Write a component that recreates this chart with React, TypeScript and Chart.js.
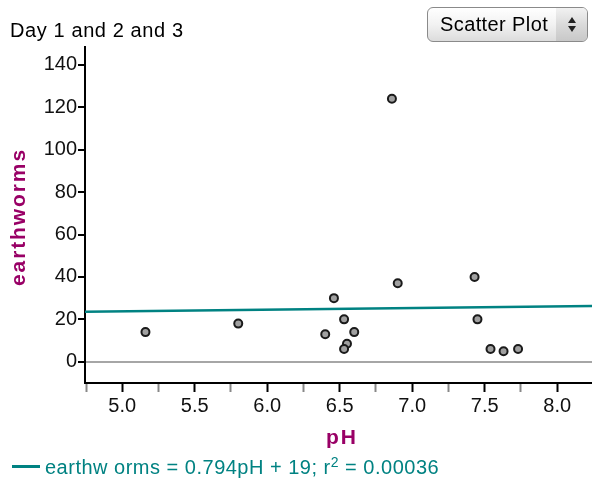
import React, { useEffect, useRef } from "react";
import { Chart, registerables } from "chart.js";

Chart.register(...registerables);

// Data
const phValues = [5.16, 5.8, 6.46, 6.53, 6.4, 6.6, 6.55, 6.53, 6.86, 6.9, 7.43, 7.45, 7.54, 7.63, 7.73];
const earthworms = [14, 18, 30, 20, 13, 14, 8.5, 6, 124, 37, 40, 20, 6, 5, 6];

// Fitted line (as drawn in the picture, at both ends of the x range)
const fitX = [4.743, 8.24];
const fitY = [23.6, 26.3];

const xTickValues = [4.75, 5.0, 5.25, 5.5, 5.75, 6.0, 6.25, 6.5, 6.75, 7.0, 7.25, 7.5, 7.75, 8.0];
const yTickValues = [0, 20, 40, 60, 80, 100, 120, 140];

const xRange = [4.743, 8.24];
const yRange = [-10, 148.4];

const titleText = "Day 1 and 2 and 3";
const xTitle = "pH";
const yTitle = "earthworms";
const menuText = "Scatter Plot";
const legendPre = "earthw orms = 0.794pH + 19; r";
const legendSup = "2";
const legendPost = " = 0.00036";

const TEAL = "#008282";
const MAGENTA = "#990066";
const FONT = "'Liberation Sans', Arial, sans-serif";

export default function App() {
  const ref = useRef<HTMLCanvasElement | null>(null);

  useEffect(() => {
    if (!ref.current) return;
    Chart.defaults.font.family = FONT;
    const chart = new Chart(ref.current, {
      type: "scatter",
      data: {
        datasets: [
          {
            type: "scatter",
            data: phValues.map((x, i) => ({ x, y: earthworms[i] })),
            pointRadius: 4,
            pointHoverRadius: 4,
            pointBorderWidth: 2,
            pointBackgroundColor: "#a0a0a0",
            pointBorderColor: "#1a1a1a",
            order: 1,
          },
          {
            type: "line",
            data: fitX.map((x, i) => ({ x, y: fitY[i] })),
            borderColor: TEAL,
            borderWidth: 2.5,
            pointRadius: 0,
            pointHoverRadius: 0,
            fill: false,
            order: 2,
          } as any,
        ],
      },
      options: {
        animation: false,
        responsive: false,
        maintainAspectRatio: false,
        events: [],
        layout: { autoPadding: false, padding: { left: 0, right: 0, top: 47, bottom: 41 } },
        plugins: {
          legend: { display: false },
          tooltip: { enabled: false },
          title: { display: false },
        },
        scales: {
          x: {
            type: "linear",
            min: xRange[0],
            max: xRange[1],
            afterBuildTicks: (s: any) => {
              s.ticks = xTickValues.map((v) => ({ value: v }));
            },
            afterFit: (s: any) => {
              s.height = 60;
              s.paddingRight = 0;
              s.paddingLeft = 0;
            },
            ticks: {
              autoSkip: false,
              maxRotation: 0,
              padding: 2,
              color: "#111",
              font: { size: 20 },
              callback: (v: any) => {
                const n = Number(v);
                return Math.abs(n * 2 - Math.round(n * 2)) < 1e-6 ? n.toFixed(1) : "";
              },
            },
            grid: {
              drawOnChartArea: false,
              drawTicks: true,
              tickLength: 9,
              tickWidth: 2,
              tickColor: (ctx: any) => {
                const n = ctx.tick ? ctx.tick.value : 0;
                return Math.abs(n * 2 - Math.round(n * 2)) < 1e-6 ? "#000" : "#888";
              },
            },
            border: { display: true, color: "#000", width: 2 },
            title: { display: false },
          },
          y: {
            type: "linear",
            min: yRange[0],
            max: yRange[1],
            afterBuildTicks: (s: any) => {
              s.ticks = yTickValues.map((v) => ({ value: v }));
            },
            afterFit: (s: any) => {
              s.width = 85;
            },
            ticks: {
              autoSkip: false,
              padding: 1,
              color: "#111",
              font: { size: 20 },
            },
            grid: {
              drawOnChartArea: true,
              drawTicks: true,
              tickLength: 7,
              tickWidth: 2,
              tickColor: "#000",
              color: (ctx: any) => (ctx.tick && ctx.tick.value === 0 ? "#a6a6a6" : "rgba(0,0,0,0)"),
              lineWidth: 2,
            },
            border: { display: true, color: "#000", width: 2 },
            title: { display: false },
          },
        },
      } as any,
    });
    return () => chart.destroy();
  }, []);

  return (
    <div style={{ position: "fixed", left: 0, top: 0, width: 592, height: 484, background: "#fff", fontFamily: FONT }}>
      <canvas ref={ref} width={592} height={484} style={{ position: "absolute", left: 0, top: 0, width: 592, height: 484 }} />
      <div style={{ position: "absolute", left: 10, top: 17, fontSize: 20, letterSpacing: "0.6px", lineHeight: "26px", color: "#000", whiteSpace: "nowrap" }}>
        {titleText}
      </div>
      {/* y axis title */}
      <div
        style={{
          position: "absolute",
          left: 18,
          top: 217,
          transform: "translate(-50%, -50%) rotate(-90deg)",
          fontSize: 21,
          fontWeight: "bold",
          letterSpacing: "1.9px",
          lineHeight: "24px",
          color: MAGENTA,
          whiteSpace: "nowrap",
        }}
      >
        {yTitle}
      </div>
      {/* x axis title */}
      <div
        style={{
          position: "absolute",
          left: 342,
          top: 437,
          transform: "translate(-50%, -50%)",
          fontSize: 21,
          fontWeight: "bold",
          letterSpacing: "2px",
          lineHeight: "24px",
          color: MAGENTA,
          whiteSpace: "nowrap",
        }}
      >
        {xTitle}
      </div>
      <div
        style={{
          position: "absolute",
          left: 427,
          top: 7,
          width: 159,
          height: 33,
          border: "1px solid #8a8a8a",
          borderRadius: 6,
          background: "linear-gradient(#ffffff, #f2f2f2 50%, #dcdcdc)",
          overflow: "hidden",
          boxSizing: "content-box",
        }}
      >
        <div style={{ position: "absolute", left: 12, top: 3, fontSize: 20, letterSpacing: "0.4px", lineHeight: "26px", color: "#000", whiteSpace: "nowrap" }}>
          {menuText}
        </div>
        <div
          style={{
            position: "absolute",
            left: 128,
            top: 0,
            width: 31,
            height: 33,
            background: "linear-gradient(#f2f2f2, #dadada 50%, #c8c8c8)",
          }}
        >
          <div style={{ position: "absolute", left: 12, top: 9, width: 0, height: 0, borderLeft: "4px solid transparent", borderRight: "4px solid transparent", borderBottom: "6px solid #222" }} />
          <div style={{ position: "absolute", left: 12, top: 18, width: 0, height: 0, borderLeft: "4px solid transparent", borderRight: "4px solid transparent", borderTop: "6px solid #222" }} />
        </div>
      </div>
      <div style={{ position: "absolute", left: 12, top: 465, width: 28, height: 3, background: TEAL }} />
      <div style={{ position: "absolute", left: 45, top: 454, fontSize: 20, letterSpacing: "0.5px", lineHeight: "26px", color: TEAL, whiteSpace: "nowrap" }}>
        {legendPre}
        <sup style={{ fontSize: 14, lineHeight: 0, verticalAlign: "7px" }}>{legendSup}</sup>
        {legendPost}
      </div>
    </div>
  );
}
